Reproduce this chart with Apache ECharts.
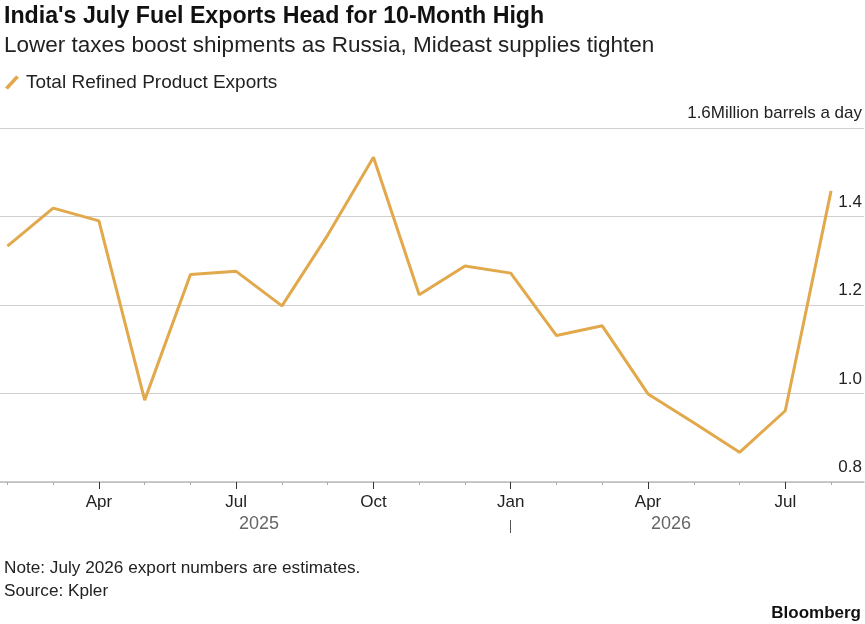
<!DOCTYPE html>
<html>
<head>
<meta charset="utf-8">
<script src="https://cdn.jsdelivr.net/npm/echarts@6/dist/echarts.min.js"></script>
<style>
html,body{margin:0;padding:0;background:#fff;}
#c{width:865px;height:624px;}
</style>
</head>
<body>
<div id="c"></div>
<script>
// ---- data ----
const months = ['2025-02','2025-03','2025-04','2025-05','2025-06','2025-07','2025-08','2025-09','2025-10','2025-11','2025-12',
                '2026-01','2026-02','2026-03','2026-04','2026-05','2026-06','2026-07','2026-08'];
const exportsMbd = [1.333,1.419,1.390,0.985,1.269,1.276,1.198,1.358,1.534,1.223,1.288,
                    1.272,1.131,1.153,0.999,0.934,0.867,0.961,1.458];
const majorTickMonths = ['2025-04','2025-07','2025-10','2026-01','2026-04','2026-07'];
const majorTickLabels = ['Apr','Jul','Oct','Jan','Apr','Jul'];
const yearLabels = ['2025','2026'];
const yearLabelPos = [6.5, 15.5];   // month-index positions of the year captions
const yearSeparator = ['2026-01'];
const yTicks = [0.8,1.0,1.2,1.4,1.6];

const FONT = '"Liberation Sans", Arial, Helvetica, sans-serif';
const LINE = '#E2A84C';

function mIdx(s){ const [y,m]=s.split('-').map(Number); return (y-2025)*12 + (m-1); }
const seriesData = months.map((m,i)=>[mIdx(m), exportsMbd[i]]);
const majorVals = majorTickMonths.map(mIdx);
const minorVals = months.map(mIdx).filter(v=>majorVals.indexOf(v)<0);
const labelMap = {}; majorVals.forEach((v,i)=>labelMap[v]=majorTickLabels[i]);
const yearMap = {}; yearLabelPos.forEach((v,i)=>yearMap[v]=yearLabels[i]);

const XMIN = 0.838, XMAX = 19.72;

const chart = echarts.init(document.getElementById('c'), null, {renderer:'canvas'});
chart.setOption({
  backgroundColor:'#fff',
  animation:false,
  textStyle:{fontFamily:FONT},
  title:[
    {text:"India's July Fuel Exports Head for 10-Month High", left:-1, top:0,
     textStyle:{fontFamily:FONT, fontSize:23.2, fontWeight:'bold', color:'#111'}},
    {text:'Lower taxes boost shipments as Russia, Mideast supplies tighten', left:-1, top:29,
     textStyle:{fontFamily:FONT, fontSize:22.5, fontWeight:'normal', color:'#222'}},
    {text:'Note: July 2026 export numbers are estimates.', left:-1, top:555,
     textStyle:{fontFamily:FONT, fontSize:17.2, fontWeight:'normal', color:'#222'}},
    {text:'Source: Kpler', left:-1, top:578,
     textStyle:{fontFamily:FONT, fontSize:17.2, fontWeight:'normal', color:'#222'}},
    {text:'Bloomberg', right:-1, top:600,
     textStyle:{fontFamily:FONT, fontSize:17, fontWeight:'bold', color:'#111'}}
  ],
  legend:{
    left:0, top:68, itemWidth:14, itemHeight:14, itemGap:9,
    icon:'path://M0,12 L11,0 L14,2 L3,14 Z',
    textStyle:{fontFamily:FONT, fontSize:19, color:'#222', padding:[0,0,0,2]},
    data:['Total Refined Product Exports']
  },
  grid:{left:0, right:0, top:128, bottom:142, containLabel:false},
  xAxis:[
    {type:'value', min:XMIN, max:XMAX, position:'bottom',
     axisLine:{show:true, lineStyle:{color:'#bdbdbd', width:1.5}},
     axisTick:{show:true, customValues:majorVals, length:7, lineStyle:{color:'#333', width:1}},
     axisLabel:{show:true, customValues:majorVals, margin:12, fontSize:17, color:'#222', fontFamily:FONT,
       formatter:v=>labelMap[v]||''},
     splitLine:{show:false}},
    {type:'value', min:XMIN, max:XMAX, position:'bottom',
     axisLine:{show:false},
     axisTick:{show:true, customValues:minorVals, length:3, lineStyle:{color:'#aaa', width:1}},
     axisLabel:{show:false}, splitLine:{show:false}},
    {type:'value', min:XMIN, max:XMAX, position:'bottom', offset:38,
     axisLine:{show:false},
     axisTick:{show:true, customValues:yearSeparator.map(mIdx), length:13, lineStyle:{color:'#555', width:1}},
     axisLabel:{show:true, customValues:yearLabelPos, margin:4, verticalAlign:'middle',
       fontSize:18, color:'#666', fontFamily:FONT, formatter:v=>yearMap[v]||''},
     splitLine:{show:false}}
  ],
  yAxis:{
    type:'value', position:'right', min:0.8, max:1.6, interval:0.2,
    axisLine:{show:false}, axisTick:{show:false},
    splitLine:{show:true, lineStyle:{color:'#cfcfcf', width:1}},
    axisLabel:{show:true, inside:true, margin:2, verticalAlign:'bottom', padding:[0,0,6,0],
      fontSize:17, color:'#222', fontFamily:FONT,
      formatter:v=>{ const t=(Math.round(v*10)/10).toFixed(1); return Math.abs(v-1.6)<1e-6 ? t+'Million barrels a day' : t; }}
  },
  series:[{
    name:'Total Refined Product Exports', type:'line', xAxisIndex:0,
    data:seriesData, showSymbol:false, symbol:'none',
    lineStyle:{color:LINE, width:3}, itemStyle:{color:LINE}
  }]
});
</script>
</body>
</html>
